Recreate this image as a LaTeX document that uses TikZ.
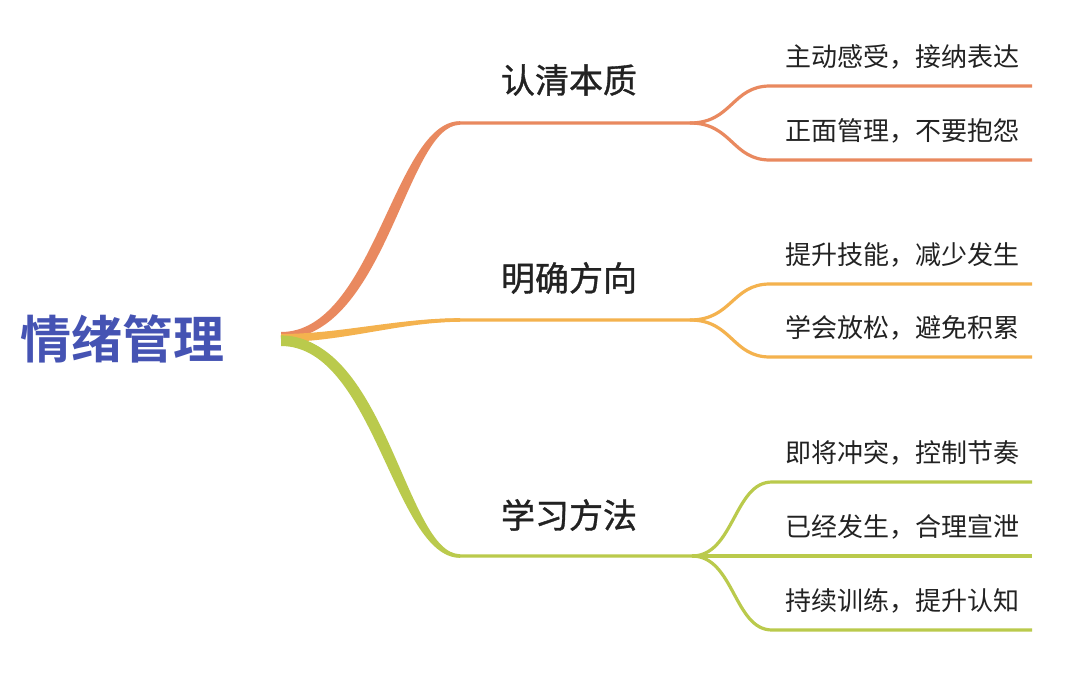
\documentclass[tikz,border=0pt]{standalone}
\usepackage{fontspec}
\usetikzlibrary{calc}
\newfontfamily\cjk{Noto Sans CJK SC}[BoldFont={* Bold}]
\newfontfamily\cjkmed{Noto Sans CJK SC}[FakeBold=1.0]
\definecolor{corange}{HTML}{E9895F}
\definecolor{cyellow}{HTML}{F4B24E}
\definecolor{cgreen}{HTML}{BACA4C}
\definecolor{rootblue}{HTML}{4553B3}
\definecolor{txt}{HTML}{222222}
\begin{document}
\begin{tikzpicture}[x=1pt,y=-1pt,
  rootnode/.style={anchor=center,inner sep=0pt,font=\cjk\bfseries\fontsize{51}{51}\selectfont,text=rootblue},
  branch/.style={anchor=center,inner sep=0pt,font=\cjkmed\fontsize{34}{34}\selectfont,text=txt},
  leaf/.style={anchor=west,inner sep=0pt,font=\cjk\fontsize{26}{26}\selectfont,text=txt},
  edge/.style={line width=3.2pt,line cap=butt}]
\useasboundingbox (0,0) rectangle (1080,678);
\fill[white] (0,0) rectangle (1080,678);

% nodes
\node[rootnode] (root) at (122,339) {情绪管理};
\coordinate (r) at (281,337);

\node[branch] (b1) at (569,80) {认清本质};
\node[branch] (b2) at (569,278) {明确方向};
\node[branch] (b3) at (569,515) {学习方法};

\node[leaf] (l1) at (785,57) {主动感受，接纳表达};
\node[leaf] (l2) at (785,131) {正面管理，不要抱怨};
\node[leaf] (l3) at (785,255) {提升技能，减少发生};
\node[leaf] (l4) at (785,328) {学会放松，避免积累};
\node[leaf] (l5) at (785,453) {即将冲突，控制节奏};
\node[leaf] (l6) at (785,527) {已经发生，合理宣泄};
\node[leaf] (l7) at (785,601) {持续训练，提升认知};

% branch coordinates
\coordinate (o1) at (460,123); \coordinate (o2) at (690,123);
\coordinate (y1) at (460,320); \coordinate (y2) at (690,320);
\coordinate (g1) at (460,556); \coordinate (g2) at (692,556);

\coordinate (s1) at (770,86);  \coordinate (e1) at (1032,86);
\coordinate (s2) at (770,160); \coordinate (e2) at (1032,160);
\coordinate (s3) at (770,284); \coordinate (e3) at (1032,284);
\coordinate (s4) at (770,357); \coordinate (e4) at (1032,357);
\coordinate (s5) at (772,482); \coordinate (e5) at (1032,482);
\coordinate (e6) at (1032,556);
\coordinate (s7) at (772,630); \coordinate (e7) at (1032,630);

% orange branch
\fill[corange] ($(r)+(0,-5)$) .. controls ($(r)+(93,-5)$) and ($(o1)+(-66,-1.8)$) .. ($(o1)+(0,-1.8)$)
  -- ($(o1)+(0,1.8)$) .. controls ($(o1)+(-54,1.8)$) and ($(r)+(105,2)$) .. ($(r)+(0,2)$) -- cycle;
\draw[edge,corange] (r) .. controls +(99,0) and +(-60,0) .. (o1) -- (o2);
\draw[edge,corange] (o2) .. controls +(42,0) and +(-38,0) .. (s1) -- (e1);
\draw[edge,corange] (o2) .. controls +(42,0) and +(-38,0) .. (s2) -- (e2);

% yellow branch
\fill[cyellow] ($(r)+(0,-3)$) .. controls ($(r)+(58,-3)$) and ($(y1)+(-62,-1.8)$) .. ($(y1)+(0,-1.8)$)
  -- ($(y1)+(0,1.8)$) .. controls ($(y1)+(-58,1.8)$) and ($(r)+(62,5)$) .. ($(r)+(0,5)$) -- cycle;
\draw[edge,cyellow] (r) .. controls +(60,0) and +(-60,0) .. (y1) -- (y2);
\draw[edge,cyellow] (y2) .. controls +(42,0) and +(-38,0) .. (s3) -- (e3);
\draw[edge,cyellow] (y2) .. controls +(42,0) and +(-38,0) .. (s4) -- (e4);

% green branch
\fill[cgreen] ($(r)+(0,-1)$) .. controls ($(r)+(105,-1)$) and ($(g1)+(-54,-1.8)$) .. ($(g1)+(0,-1.8)$)
  -- ($(g1)+(0,1.8)$) .. controls ($(g1)+(-66,1.8)$) and ($(r)+(93,9)$) .. ($(r)+(0,9)$) -- cycle;
\draw[edge,cgreen] (r) .. controls +(99,0) and +(-60,0) .. (g1) -- (g2);
\draw[edge,cgreen] (g2) .. controls +(42,0) and +(-38,0) .. (s5) -- (e5);
\draw[edge,cgreen] (g2) -- (e6);
\draw[edge,cgreen] (g2) .. controls +(42,0) and +(-38,0) .. (s7) -- (e7);
\end{tikzpicture}
\end{document}
